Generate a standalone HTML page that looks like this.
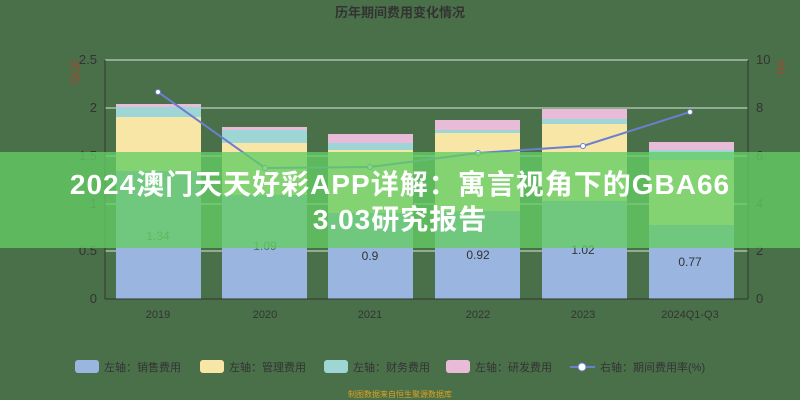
<!DOCTYPE html>
<html><head><meta charset="utf-8"><style>
body{margin:0;width:800px;height:400px;overflow:hidden;background:#4a7049;font-family:"Liberation Sans","Noto Sans CJK SC",sans-serif}
.banner{position:absolute;left:0;top:152px;width:800px;height:96px;background:rgba(100,205,100,0.78)}
.bt{position:absolute;left:0;top:167px;width:800px;text-align:center;color:#fff;font-weight:bold;font-size:28px;letter-spacing:1px;line-height:35px}
</style></head><body>
<svg width="800" height="400" style="position:absolute;left:0;top:0" font-family="Liberation Sans, Noto Sans CJK SC, sans-serif">
<text x="400" y="17" text-anchor="middle" font-size="13" font-weight="bold" fill="#333">历年期间费用变化情况</text>
<g stroke="#d8e8d8" stroke-width="1">
<line x1="105" y1="60" x2="748" y2="60"/><line x1="105" y1="108" x2="748" y2="108"/><line x1="105" y1="156" x2="748" y2="156"/><line x1="105" y1="204" x2="748" y2="204"/><line x1="105" y1="251" x2="748" y2="251"/>
</g>
<line x1="105" y1="60" x2="105" y2="299" stroke="#333"/>
<line x1="748" y1="60" x2="748" y2="299" stroke="#333"/>
<g fill="#333" font-size="13">
<text x="97" y="64" text-anchor="end">2.5</text><text x="97" y="112" text-anchor="end">2</text><text x="97" y="160" text-anchor="end">1.5</text><text x="97" y="208" text-anchor="end">1</text><text x="97" y="255" text-anchor="end">0.5</text><text x="97" y="303" text-anchor="end">0</text>
<text x="756" y="64">10</text><text x="756" y="112">8</text><text x="756" y="160">6</text><text x="756" y="208">4</text><text x="756" y="255">2</text><text x="756" y="303">0</text>
</g>
<text x="72" y="72" font-size="9" fill="#c0392b" transform="rotate(90 72 72)" text-anchor="middle">(亿元)</text>
<text x="778" y="60" font-size="9" fill="#c0392b" transform="rotate(90 778 60)">(%)</text>
<g>
<rect x="116" y="171" width="85" height="128" fill="#9ab6e0"/><rect x="116" y="117" width="85" height="54" fill="#f7e6a6"/><rect x="116" y="107" width="85" height="10" fill="#9ed6d6"/><rect x="116" y="104" width="85" height="3" fill="#e8bcd8"/>
<rect x="222" y="195" width="85" height="104" fill="#9ab6e0"/><rect x="222" y="143" width="85" height="52" fill="#f7e6a6"/><rect x="222" y="130" width="85" height="13" fill="#9ed6d6"/><rect x="222" y="127" width="85" height="3" fill="#e8bcd8"/>
<rect x="328" y="213" width="85" height="86" fill="#9ab6e0"/><rect x="328" y="150" width="85" height="63" fill="#f7e6a6"/><rect x="328" y="143" width="85" height="7" fill="#9ed6d6"/><rect x="328" y="134" width="85" height="9" fill="#e8bcd8"/>
<rect x="435" y="211" width="85" height="88" fill="#9ab6e0"/><rect x="435" y="133" width="85" height="78" fill="#f7e6a6"/><rect x="435" y="130" width="85" height="3" fill="#9ed6d6"/><rect x="435" y="120" width="85" height="10" fill="#e8bcd8"/>
<rect x="542" y="201" width="85" height="98" fill="#9ab6e0"/><rect x="542" y="124" width="85" height="77" fill="#f7e6a6"/><rect x="542" y="119" width="85" height="5" fill="#9ed6d6"/><rect x="542" y="109" width="85" height="10" fill="#e8bcd8"/>
<rect x="649" y="225" width="85" height="74" fill="#9ab6e0"/><rect x="649" y="160" width="85" height="65" fill="#f7e6a6"/><rect x="649" y="150" width="85" height="10" fill="#9ed6d6"/><rect x="649" y="142" width="85" height="8" fill="#e8bcd8"/>
</g>
<line x1="105" y1="299" x2="748" y2="299" stroke="#333"/>
<g fill="#333" font-size="11" text-anchor="middle">
<text x="158" y="318">2019</text><text x="265" y="318">2020</text><text x="370" y="318">2021</text><text x="478" y="318">2022</text><text x="583" y="318">2023</text><text x="690" y="318">2024Q1-Q3</text>
</g>
<polyline points="158,92 265,168 370,167 478,153 583,146 690,112" fill="none" stroke="#6b7fcf" stroke-width="2"/>
<g fill="#fff" stroke="#6b7fcf" stroke-width="1"><circle cx="158" cy="92" r="2.5"/><circle cx="265" cy="168" r="2.5"/><circle cx="370" cy="167" r="2.5"/><circle cx="478" cy="153" r="2.5"/><circle cx="583" cy="146" r="2.5"/><circle cx="690" cy="112" r="2.5"/></g>
<g font-size="12" text-anchor="middle" fill="#333">
<text x="158" y="240" fill="#3a7a4a">1.34</text><text x="265" y="250" fill="#3a7a4a">1.09</text><text x="370" y="260">0.9</text><text x="478" y="259">0.92</text><text x="583" y="254">1.02</text><text x="690" y="266">0.77</text>
</g>
<g font-size="11" fill="#333">
<rect x="75" y="360" width="24" height="13" rx="3" fill="#9ab6e0"/><text x="104" y="371">左轴：销售费用</text>
<rect x="200" y="360" width="24" height="13" rx="3" fill="#f7e6a6"/><text x="229" y="371">左轴：管理费用</text>
<rect x="324" y="360" width="24" height="13" rx="3" fill="#9ed6d6"/><text x="353" y="371">左轴：财务费用</text>
<rect x="446" y="360" width="24" height="13" rx="3" fill="#e8bcd8"/><text x="475" y="371">左轴：研发费用</text>
<line x1="570" y1="367" x2="595" y2="367" stroke="#6b7fcf" stroke-width="2"/><circle cx="582" cy="367" r="4" fill="#fff" stroke="#6b7fcf"/><text x="600" y="371">右轴：期间费用率(%)</text>
</g>
<text x="400" y="397" text-anchor="middle" font-size="8" fill="#e0a020">制图数据来自恒生聚源数据库</text>
</svg>
<div class="banner"></div>
<div class="bt">2024澳门天天好彩APP详解：寓言视角下的GBA66<br>3.03研究报告</div>
</body></html>
